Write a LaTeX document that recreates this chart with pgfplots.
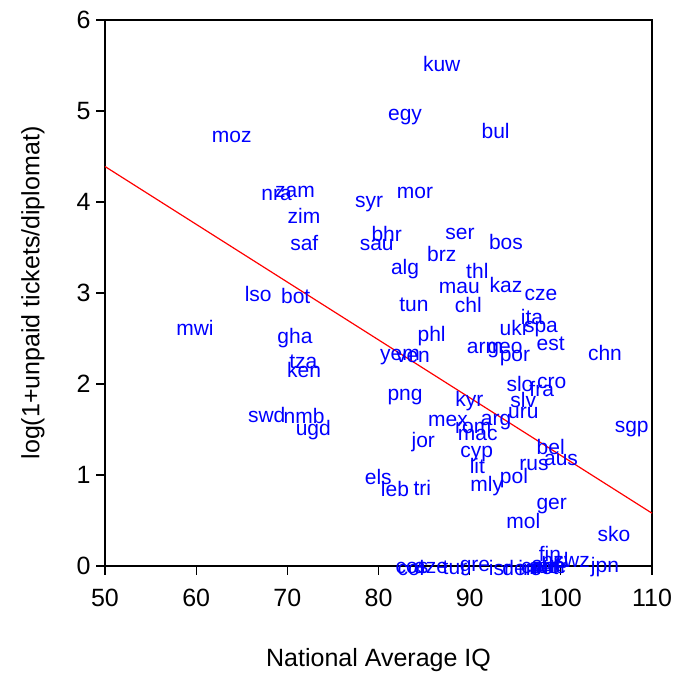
\documentclass[border=0pt]{standalone}
\usepackage{fontspec}
\setmainfont{Liberation Sans}
\usepackage{pgfplots}
\pgfplotsset{compat=1.18}
\begin{document}
\begin{tikzpicture}
\begin{axis}[
  name=ax,
  scale only axis,
  width=273.5pt, height=273pt,
  xmin=50, xmax=110, ymin=0, ymax=6,
  xtick={50,60,...,110}, ytick={0,1,...,6},
  tick align=outside, major tick length=4.5pt,
  xtick pos=bottom, ytick pos=left,
  axis line style={line width=0.8pt},
  major tick style={line width=0.6pt, black},
  /pgf/number format/assume math mode=true,
  tick label style={font=\fontsize{12.5}{14}\selectfont, inner sep=0pt},
  xticklabel style={yshift=-6.8pt},
  yticklabel style={xshift=-2.5pt},
  label style={font=\fontsize{12.5}{14}\selectfont, inner sep=0pt},
  xlabel={National Average IQ},
  ylabel={log(1+unpaid tickets/diplomat)},
  x label style={at={(axis description cs:0.5,-0.172)}, anchor=center},
  y label style={at={(axis description cs:-0.1316,0.5)}, anchor=center},
  clip=false,
]
\addplot[only marks, mark=*, mark size=0pt, mark options={draw=none, fill=none},
  point meta=explicit symbolic,
  nodes near coords,
  nodes near coords align={anchor=center},
  every node near coord/.append style={inner sep=0pt, text=blue, yshift=-1pt,
    font=\fontsize{10.5}{12}\selectfont}]
  table[meta=lab] {
x y lab
86.93 5.535 kuw
82.91 4.956 egy
92.85 4.802 bul
63.90 4.736 moz
84.00 4.121 mor
68.83 4.102 nra
70.84 4.132 zam
78.96 4.003 syr
71.83 3.868 zim
80.90 3.667 bhr
79.80 3.553 sau
71.86 3.575 saf
88.94 3.674 ser
93.98 3.582 bos
86.93 3.447 brz
82.91 3.282 alg
90.84 3.260 thl
88.86 3.080 mau
93.98 3.113 kaz
66.81 3.008 lso
70.92 2.989 bot
97.82 3.003 cze
83.89 2.887 tun
89.85 2.887 chl
96.84 2.758 ita
59.87 2.637 mwi
94.89 2.641 ukr
97.82 2.630 spa
70.84 2.527 gha
85.83 2.546 phl
98.89 2.462 est
91.68 2.418 arm
93.87 2.399 geo
104.84 2.366 chn
82.36 2.319 yem
83.78 2.319 ven
94.97 2.308 por
71.75 2.264 tza
71.83 2.179 ken
95.52 2.025 slo
98.99 2.033 cro
97.90 1.970 fra
82.91 1.882 png
89.96 1.837 kyr
95.88 1.843 slv
95.88 1.709 uru
67.74 1.685 swd
71.83 1.670 nmb
87.62 1.613 mex
92.89 1.608 arg
90.40 1.535 rom
90.89 1.464 mac
107.77 1.527 sgp
72.85 1.513 ugd
84.91 1.385 jor
98.89 1.330 bel
90.77 1.256 cyp
90.84 1.121 lit
97.05 1.129 rus
100.02 1.184 aus
79.98 1.000 els
94.86 0.992 pol
81.81 0.865 leb
84.80 0.882 tri
91.87 0.901 mly
99.00 0.681 ger
95.88 0.513 mol
105.83 0.370 sko
98.81 0.157 fin
101.19 0.066 swz
104.84 0.005 jpn
99.36 0.090 nzl
83.56 0.000 col
83.67 0.000 cos
85.76 0.000 aze
88.39 0.000 tur
90.58 0.000 gre
93.33 0.000 isr
95.52 0.000 den
96.62 0.000 ire
97.49 0.000 can
98.15 0.000 net
98.59 0.000 swe
99.03 0.000 nor
98.37 0.030 aut
};
\addplot[red, line width=0.6pt, no marks] coordinates {(50,4.39) (110,0.58)};
\end{axis}
\path (ax.south west) ++(-52.5pt,-54.5pt);
\path (ax.north east) ++(11pt,10pt);
\end{tikzpicture}
\end{document}
